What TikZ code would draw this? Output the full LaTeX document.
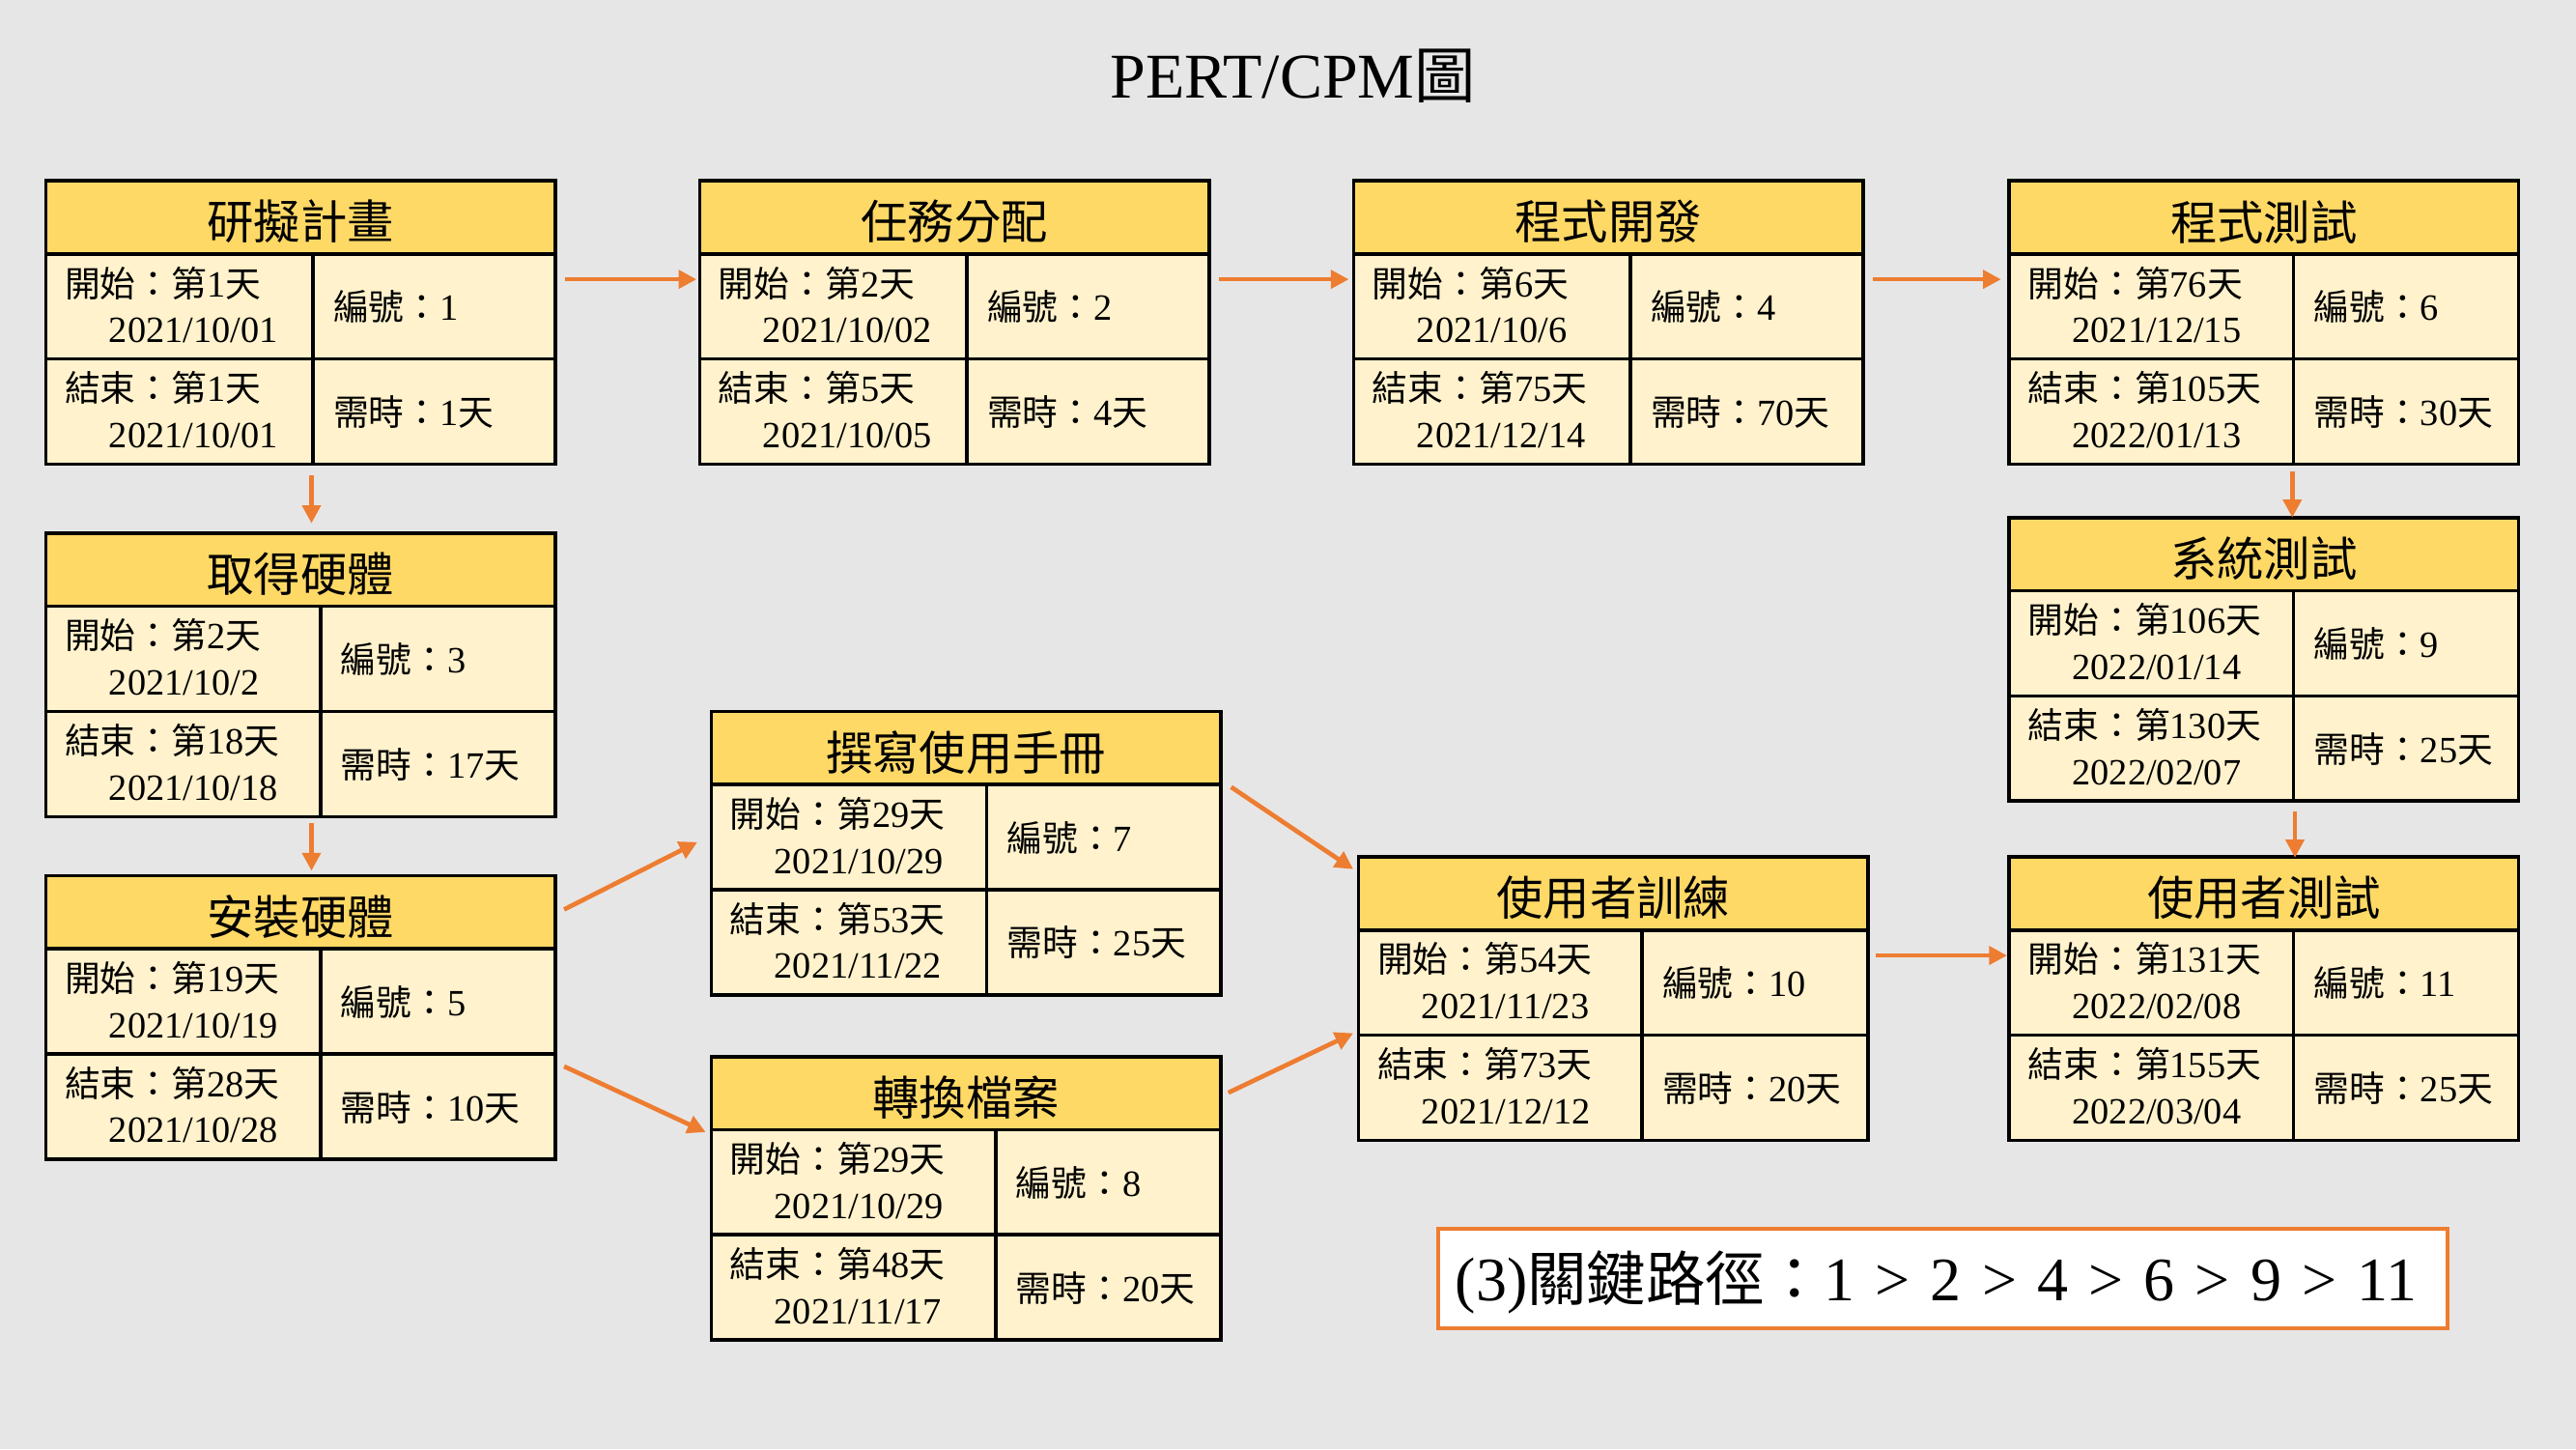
\documentclass[tikz,border=0pt]{standalone}
\usepackage{fontspec}
\setmainfont{Liberation Serif}
\newfontfamily\cjkf{Noto Sans CJK TC}[Scale=0.96]
\newcommand\C[1]{{\cjkf #1}}
\usetikzlibrary{arrows.meta,calc}
\definecolor{bgc}{HTML}{E7E6E6}
\definecolor{hdrc}{HTML}{FFD966}
\definecolor{bodyc}{HTML}{FFF2CC}
\definecolor{orc}{HTML}{ED7D31}
\tikzset{
  boxnode/.style={anchor=north west, fill=bodyc, minimum width=158.16pt, minimum height=88.01pt, inner sep=0pt, outer sep=0pt},
  boxline/.style={draw=black, line width=1.1pt},
  hdrtext/.style={inner sep=0pt, font=\fontsize{15.1}{18}\selectfont},
  celltext/.style={anchor=base west, inner sep=0pt, font=\fontsize{11.5}{14}\selectfont},
  arr/.style={draw=orc, line width=1.4pt, -{Triangle[length=5.6pt,width=5.6pt]}},
  critbox/.style={draw=orc, line width=1.3pt, fill=white, minimum width=313.5pt, minimum height=30.9pt, inner sep=0pt},
}
% name x y divx title id dur
\newcommand\pbox[7]{%
  \node[boxnode] (#1) at (#2,#3) {};
  \fill[hdrc] (#2,#3) rectangle (#2+310,#3+44.5);
  \draw[boxline] (#2,#3+44.5) -- (#2+310,#3+44.5);
  \draw[boxline] (#2,#3+108.5) -- (#2+310,#3+108.5);
  \draw[boxline] (#4,#3+44.5) -- (#4,#3+172.5);
  \draw[boxline] (#2,#3) rectangle (#2+310,#3+172.5);
  \node[hdrtext] (#1h) at (#2+155,#3+25) {\C{#5}};
  \node[celltext] (#1i) at (#4+12,#3+44.5+40.5) {\C{編號：}#6};
  \node[celltext] (#1d) at (#4+12,#3+108.5+40.5) {\C{需時：}#7\C{天}};
}
% name x y sN sdate eN edate
\newcommand\pdates[7]{%
  \node[celltext] (#1sa) at (#2+11,#3+70.5) {\C{開始：第}#4\C{天}};
  \node[celltext] (#1sb) at (#2+38,#3+98.5) {#5};
  \node[celltext] (#1ea) at (#2+11,#3+134.5) {\C{結束：第}#6\C{天}};
  \node[celltext] (#1eb) at (#2+38,#3+162.5) {#7};
}
\newcommand\gtsep{\hspace{0.33em}>\hspace{0.33em}}
\begin{document}
\begin{tikzpicture}[x=0.5102pt,y=-0.5102pt]
\fill[bgc] (0,0) rectangle (1568,882);
\useasboundingbox (0,0) rectangle (1568,882);

\node[anchor=base, inner sep=0pt, font=\fontsize{19.8}{24}\selectfont] (title) at (787,59.4) {PERT/CPM\C{圖}};

\pbox{b1}{28}{110}{190.5}{研擬計畫}{1}{1}
\pdates{b1}{28}{110}{1}{2021/10/01}{1}{2021/10/01}
\pbox{b2}{426}{110}{588.5}{任務分配}{2}{4}
\pdates{b2}{426}{110}{2}{2021/10/02}{5}{2021/10/05}
\pbox{b3}{824}{110}{992.4}{程式開發}{4}{70}
\pdates{b3}{824}{110}{6}{2021/10/6}{75}{2021/12/14}
\pbox{b4}{1223}{110}{1396}{程式測試}{6}{30}
\pdates{b4}{1223}{110}{76}{2021/12/15}{105}{2022/01/13}
\pbox{b5}{28}{324.5}{195}{取得硬體}{3}{17}
\pdates{b5}{28}{324.5}{2}{2021/10/2}{18}{2021/10/18}
\pbox{b6}{28}{533}{195}{安裝硬體}{5}{10}
\pdates{b6}{28}{533}{19}{2021/10/19}{28}{2021/10/28}
\pbox{b7}{433}{433}{600.5}{撰寫使用手冊}{7}{25}
\pdates{b7}{433}{433}{29}{2021/10/29}{53}{2021/11/22}
\pbox{b8}{433}{643}{606}{轉換檔案}{8}{20}
\pdates{b8}{433}{643}{29}{2021/10/29}{48}{2021/11/17}
\pbox{b9}{1223}{315}{1396}{系統測試}{9}{25}
\pdates{b9}{1223}{315}{106}{2022/01/14}{130}{2022/02/07}
\pbox{b10}{827}{521.5}{999.5}{使用者訓練}{10}{20}
\pdates{b10}{827}{521.5}{54}{2021/11/23}{73}{2021/12/12}
\pbox{b11}{1223}{521.5}{1396}{使用者測試}{11}{25}
\pdates{b11}{1223}{521.5}{131}{2022/02/08}{155}{2022/03/04}

% arrows
\draw[arr] ($(b1.north east)+(6,60)$) -- ($(b2.north west)+(-2,60)$);
\draw[arr] ($(b2.north east)+(6,60)$) -- ($(b3.north west)+(-3,60)$);
\draw[arr] ($(b3.north east)+(6,60)$) -- ($(b4.north west)+(-5,60)$);
\draw[arr] ($(b1.south west)+(161.6,7)$) -- ($(b5.north west)+(161.6,-6)$);
\draw[arr] ($(b5.south west)+(161.6,4)$) -- ($(b6.north west)+(161.6,-3)$);
\draw[arr] ($(b6.north east)+(5.4,20.5)$) -- ($(b7.north west)+(-8.5,79.5)$);
\draw[arr] ($(b6.north east)+(5.4,116)$) -- ($(b8.north west)+(-3.5,46)$);
\draw[arr] ($(b7.north east)+(6.4,46)$) -- ($(b10.north west)+(-3.3,7.5)$);
\draw[arr] ($(b8.north east)+(4.7,22)$) -- ($(b10.north west)+(-3.3,107.3)$);
\draw[arr] ($(b4.south west)+(172.3,4.3)$) -- ($(b9.north west)+(172.3,0)$);
\draw[arr] ($(b9.south west)+(173.9,6.5)$) -- ($(b11.north west)+(173.9,0.5)$);
\draw[arr] ($(b10.north east)+(5,60)$) -- ($(b11.north west)+(-1.3,60)$);

% critical path
\node[critbox] (crit) at (1182.6,778.1) {};
\node[anchor=base, inner sep=0pt, font=\fontsize{19.2}{23}\selectfont] (crittext) at (1178.4,791.7) {(3)\C{關鍵路徑：}1\gtsep 2\gtsep 4\gtsep 6\gtsep 9\gtsep 11};
\end{tikzpicture}
\end{document}
